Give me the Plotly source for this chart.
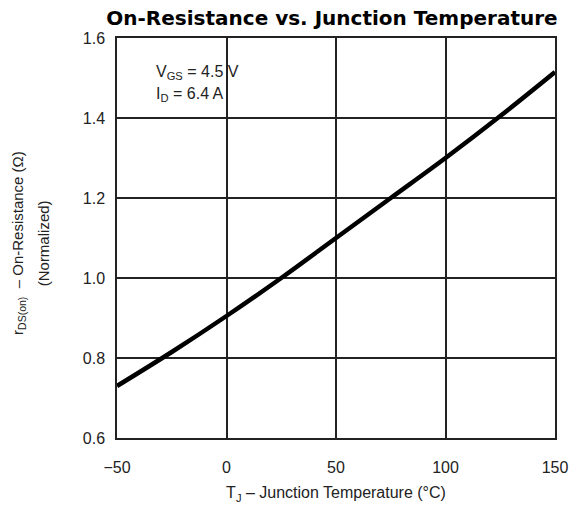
import plotly.graph_objects as go

temps = [-50, -25, 0, 25, 50, 75, 100, 125, 150]
rds_norm = [0.73, 0.815, 0.905, 1.0, 1.1, 1.2, 1.3, 1.405, 1.515]
x_ticks = [-50, 0, 50, 100, 150]
x_labels = ["\u221250", "0", "50", "100", "150"]
y_ticks = [0.6, 0.8, 1.0, 1.2, 1.4, 1.6]
y_labels = ["0.6", "0.8", "1.0", "1.2", "1.4", "1.6"]

FONT = "Liberation Sans, Arial, sans-serif"
TXT = "#222"

fig = go.Figure()
fig.add_trace(go.Scatter(x=temps, y=rds_norm, mode="lines",
                         line=dict(color="black", width=4.5, shape="spline"),
                         showlegend=False, hoverinfo="skip"))

axis_common = dict(showgrid=True, gridcolor="#222", gridwidth=1.5,
                   showline=True, linecolor="#222", linewidth=1.5, mirror=True,
                   zeroline=False, ticks="", tickfont=dict(size=16, color=TXT, family=FONT))

fig.update_xaxes(range=[-50, 150], tickvals=x_ticks, ticktext=x_labels,
                 ticklabelstandoff=14,
                 title=dict(text="T<sub>J</sub> \u2013 Junction Temperature (\u00b0C)",
                            font=dict(size=16, color=TXT, family=FONT), standoff=12),
                 **axis_common)
fig.update_yaxes(range=[0.6, 1.6], tickvals=y_ticks, ticktext=y_labels,
                 ticklabelstandoff=7,
                 **axis_common)

fig.add_annotation(x=-0.224, y=0.4875, xref="paper", yref="paper",
                   xanchor="center", yanchor="middle", textangle=-90,
                   text="r<sub>DS(on)</sub>  \u2013 On-Resistance (\u03a9)", showarrow=False,
                   font=dict(size=15, color=TXT, family=FONT))
fig.add_annotation(x=-0.166, y=0.4875, xref="paper", yref="paper",
                   xanchor="center", yanchor="middle", textangle=-90,
                   text="(Normalized)", showarrow=False,
                   font=dict(size=15, color=TXT, family=FONT))

fig.add_annotation(x=-33, y=1.515, xref="x", yref="y", xanchor="left", yanchor="middle",
                   text="V<sub>GS</sub> = 4.5 V", showarrow=False,
                   font=dict(size=16, color=TXT, family=FONT))
fig.add_annotation(x=-33, y=1.46, xref="x", yref="y", xanchor="left", yanchor="middle",
                   text="I<sub>D</sub> = 6.4 A", showarrow=False,
                   font=dict(size=16, color=TXT, family=FONT))

fig.update_layout(
    width=580, height=513,
    margin=dict(l=117, r=15, t=38, b=75),
    paper_bgcolor="white", plot_bgcolor="white",
    font=dict(family=FONT, color=TXT),
    title=dict(text="<b>On-Resistance vs. Junction Temperature</b>",
               x=332 / 580, xanchor="center", xref="container",
               y=1 - 18 / 513, yanchor="middle", yref="container",
               font=dict(size=20, color="black", family="DejaVu Sans, sans-serif")),
)

fig.write_html(
    "out.html",
    config={"displayModeBar": False},
    post_script="document.body.style.margin='0';document.body.style.overflow='hidden';",
)
